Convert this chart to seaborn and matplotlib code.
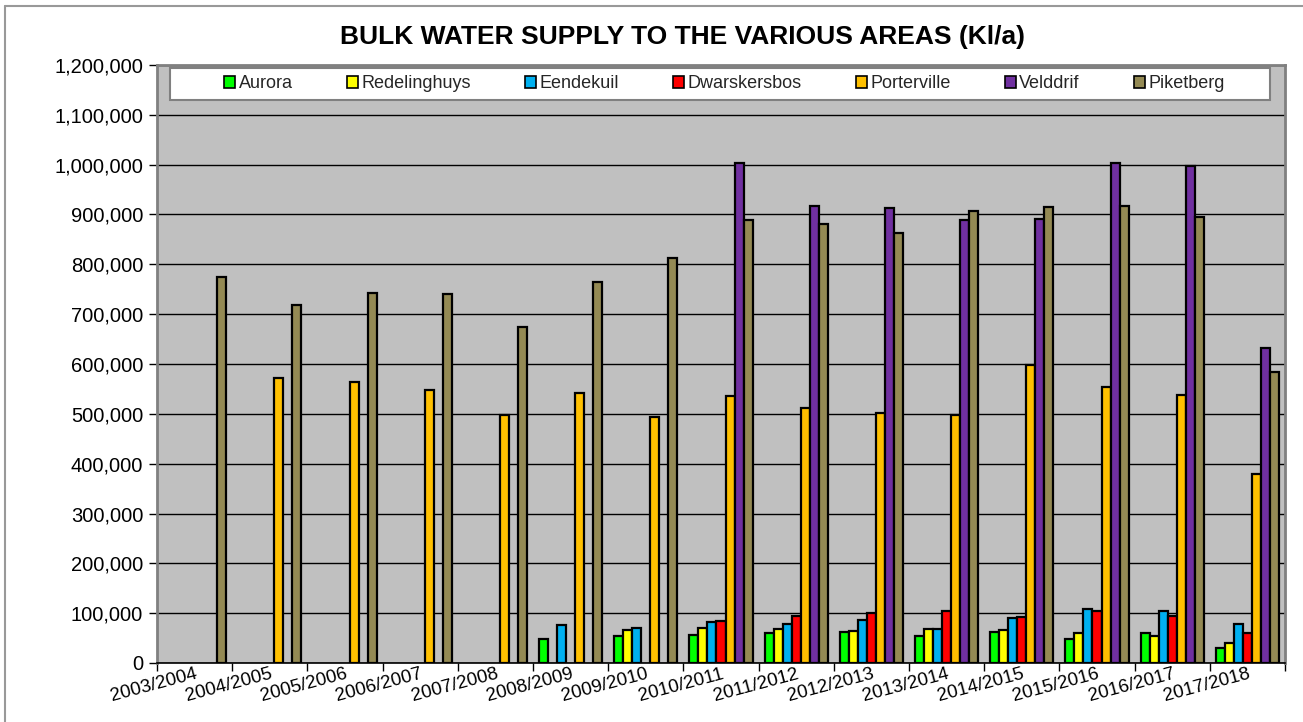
import matplotlib
matplotlib.use("Agg")
import matplotlib.pyplot as plt
import seaborn as sns
import numpy as np
import pandas as pd
from matplotlib.patches import Patch, Rectangle
from matplotlib.ticker import FuncFormatter, MultipleLocator
from matplotlib.lines import Line2D

# ── Data (Kl/a) ──────────────────────────────────────────────────────────────
years = [
    "2003/2004", "2004/2005", "2005/2006", "2006/2007", "2007/2008",
    "2008/2009", "2009/2010", "2010/2011", "2011/2012", "2012/2013",
    "2013/2014", "2014/2015", "2015/2016", "2016/2017", "2017/2018",
]
aurora       = [None, None, None, None, None, 48000, 54000, 56000, 60000, 62000,
                54000, 62000, 48000, 60000, 31000]
redelinghuys = [None, None, None, None, None, None, 66000, 70000, 68000, 64000,
                69000, 66000, 60000, 54000, 40000]
eendekuil    = [None, None, None, None, None, 77000, 70000, 82000, 78000, 86000,
                69000, 90000, 108000, 105000, 79000]
dwarskersbos = [None, None, None, None, None, None, None, 84000, 94000, 100000,
                104000, 92000, 104000, 94000, 60000]
porterville  = [None, 572000, 564000, 548000, 498000, 542000, 494000, 536000, 512000,
                502000, 498000, 598000, 554000, 537000, 379000]
velddrif     = [None, None, None, None, None, None, None, 1004000, 918000, 914000,
                888000, 890000, 1003000, 997000, 633000]
piketberg    = [774000, 718000, 742000, 740000, 674000, 765000, 812000, 888000, 880000,
                862000, 907000, 915000, 918000, 895000, 583000]

areas = ["Aurora", "Redelinghuys", "Eendekuil", "Dwarskersbos",
         "Porterville", "Velddrif", "Piketberg"]
series = [aurora, redelinghuys, eendekuil, dwarskersbos,
          porterville, velddrif, piketberg]
colors = ["#00FF00", "#FFFF00", "#00B0F0", "#FF0000",
          "#FFC000", "#7030A0", "#948A54"]

rows = []
for area, vals in zip(areas, series):
    for yr, v in zip(years, vals):
        if v is not None:
            rows.append({"year": yr, "area": area, "value": v})
df = pd.DataFrame(rows)

# ── Figure ───────────────────────────────────────────────────────────────────
sns.set_style("white")
plt.rcParams["font.family"] = ["Liberation Sans", "DejaVu Sans"]

fig = plt.figure(figsize=(13.03, 7.22), dpi=100)
ax = fig.add_axes([157 / 1303, 1 - 663 / 722, (1285 - 157) / 1303, (663 - 65) / 722])
ax.set_facecolor("#C0C0C0")

sns.barplot(
    data=df, x="year", y="value", hue="area",
    order=years, hue_order=areas, palette=colors, saturation=1,
    width=0.84, errorbar=None, edgecolor="black", linewidth=1.6,
    ax=ax, zorder=3,
)

# Axes styling
ax.set_ylim(0, 1_200_000)
ax.set_xlim(-0.5, len(years) - 0.5)
ax.yaxis.set_major_locator(MultipleLocator(100_000))
ax.yaxis.set_major_formatter(FuncFormatter(lambda v, _: f"{int(v):,}"))
ax.grid(axis="y", color="black", linewidth=1.0, zorder=1)
ax.set_axisbelow(True)
ax.set_xlabel("")
ax.set_ylabel("")

ax.tick_params(axis="y", direction="out", length=6, width=1, color="black",
               labelsize=14.5, left=True, pad=4, labelcolor="black")
ax.set_xticks(range(len(years)))
ax.set_xticklabels(years, rotation=15, ha="right", rotation_mode="anchor",
                   fontsize=13.5, color="black")
ax.tick_params(axis="x", which="major", length=0, pad=2)
ax.set_xticks(np.arange(-0.5, len(years) + 0.5, 1), minor=True)
ax.tick_params(axis="x", which="minor", direction="out", length=6, width=1,
               color="black", bottom=True)

for side in ["top", "right", "left"]:
    ax.spines[side].set_color("#808080")
    ax.spines[side].set_linewidth(2)
ax.spines["bottom"].set_color("black")
ax.spines["bottom"].set_linewidth(1.2)

# Legend: wide white box with the entries centred inside
if ax.get_legend() is not None:
    ax.get_legend().remove()
box_x, box_y, box_w, box_h = 0.0115, 0.9415, 0.975, 0.054
ax.add_patch(Rectangle((box_x, box_y), box_w, box_h, transform=ax.transAxes,
                       facecolor="white", edgecolor="#808080", linewidth=1.5,
                       zorder=6, clip_on=False))
handles = [Patch(facecolor=c, edgecolor="black", linewidth=1.2) for c in colors]
leg = ax.legend(
    handles, areas, ncol=7, loc="center",
    bbox_to_anchor=(box_x + box_w / 2 + 0.004, box_y + box_h / 2),
    fontsize=13, handlelength=0.6, handleheight=0.6, handletextpad=0.2,
    columnspacing=3.0, frameon=False,
)
leg.set_zorder(7)

# Title
fig.text(683 / 1303, 1 - 37 / 722, "BULK WATER SUPPLY TO THE VARIOUS AREAS (Kl/a)",
         ha="center", va="center", fontsize=19, fontweight="bold", color="black")

# Outer chart border (left and top visible)
fig.add_artist(Line2D([5 / 1303, 5 / 1303], [0, 1 - 6 / 722], color="#999999", lw=1.5))
fig.add_artist(Line2D([5 / 1303, 1], [1 - 6 / 722, 1 - 6 / 722], color="#999999", lw=1.5))

fig.savefig("out.png", dpi=100)
